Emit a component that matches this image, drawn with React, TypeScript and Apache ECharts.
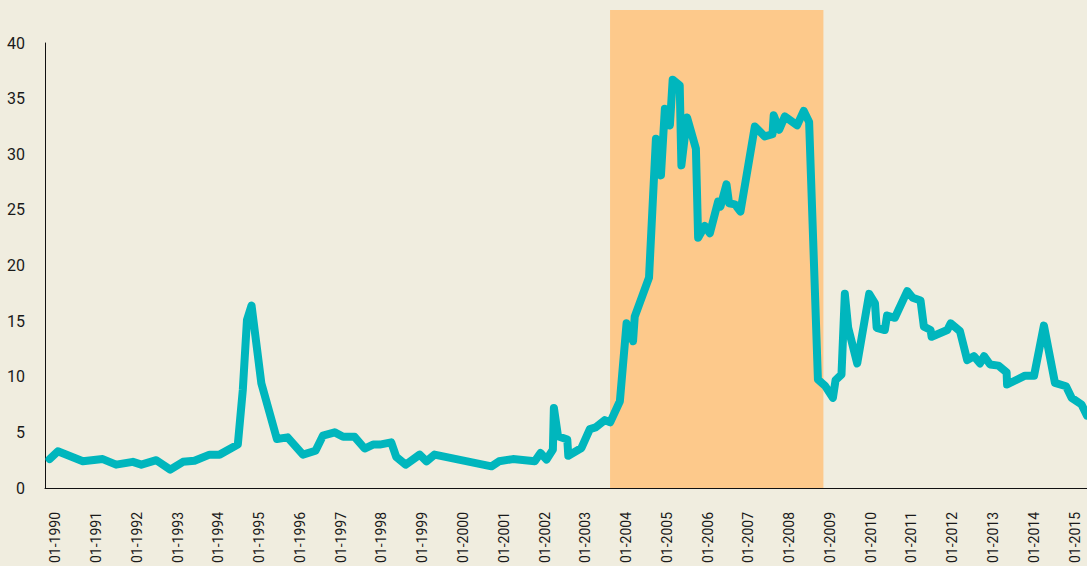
import React, { useEffect, useRef } from "react";
import * as echarts from "echarts";

const dates: string[] = [
  "1989-11-12", "1990-01-25", "1990-09-06", "1991-03-03", "1991-07-01", "1991-11-28",
  "1992-02-12", "1992-06-25", "1992-10-28", "1993-02-19", "1993-06-02", "1993-10-15",
  "1994-01-13", "1994-06-25", "1994-08-09", "1994-09-15", "1994-10-26", "1995-01-22",
  "1995-06-10", "1995-09-14", "1996-01-29", "1996-05-21", "1996-07-26", "1996-11-09",
  "1997-01-23", "1997-05-06", "1997-08-04", "1997-10-18", "1997-12-17", "1998-03-30",
  "1998-05-14", "1998-08-06", "1998-12-10", "1999-02-09", "1999-04-22", "2000-09-13",
  "2000-11-20", "2001-03-24", "2001-10-06", "2001-11-26", "2002-01-19", "2002-03-17",
  "2002-03-26", "2002-05-02", "2002-07-24", "2002-08-02", "2002-11-28", "2003-02-11",
  "2003-04-04", "2003-06-25", "2003-08-12", "2003-11-07", "2004-01-06", "2004-03-04",
  "2004-03-19", "2004-07-25", "2004-09-25", "2004-11-09", "2004-12-14", "2005-01-28",
  "2005-02-22", "2005-04-26", "2005-05-11", "2005-07-01", "2005-09-18", "2005-10-08",
  "2005-12-07", "2006-01-21", "2006-04-05", "2006-04-26", "2006-06-19", "2006-07-12",
  "2006-09-02", "2006-10-22", "2007-02-28", "2007-05-27", "2007-08-05", "2007-08-16",
  "2007-10-04", "2007-11-24", "2008-03-12", "2008-05-11", "2008-06-28", "2008-09-15",
  "2008-11-17", "2009-01-27", "2009-02-20", "2009-04-14", "2009-05-14", "2009-06-13",
  "2009-09-02", "2009-12-18", "2010-02-08", "2010-02-23", "2010-05-07", "2010-05-27",
  "2010-08-05", "2010-11-24", "2011-01-12", "2011-03-23", "2011-04-22", "2011-06-21",
  "2011-06-30", "2011-11-18", "2011-12-18", "2012-03-10", "2012-05-14", "2012-07-13",
  "2012-09-06", "2012-10-12", "2012-12-05", "2013-02-18", "2013-05-02", "2013-05-06",
  "2013-10-14", "2014-01-03", "2014-04-01", "2014-07-09", "2014-10-16", "2014-12-06",
  "2015-03-04", "2015-04-22",
];

const values: number[] = [
  2.6, 3.3, 2.4, 2.6, 2.1, 2.35,
  2.1, 2.5, 1.65, 2.35, 2.45, 3.0,
  3.0, 3.9, 8.85, 15.1, 16.4, 9.4,
  4.4, 4.55, 3.0, 3.35, 4.7, 5.0,
  4.6, 4.6, 3.55, 3.9, 3.9, 4.1,
  2.8, 2.1, 3.0, 2.4, 3.0, 1.95,
  2.4, 2.6, 2.4, 3.15, 2.55, 3.45,
  7.2, 4.65, 4.35, 2.9, 3.6, 5.3,
  5.45, 6.1, 5.9, 7.8, 14.8, 13.2,
  15.4, 18.9, 31.4, 28.1, 34.1, 32.6,
  36.7, 36.2, 29.0, 33.3, 30.5, 22.5,
  23.55, 22.9, 25.75, 25.3, 27.3, 25.6,
  25.5, 24.85, 32.5, 31.6, 31.8, 33.5,
  32.2, 33.4, 32.6, 33.9, 32.9, 9.75,
  9.2, 8.1, 9.7, 10.2, 17.45, 14.4,
  11.2, 17.45, 16.6, 14.4, 14.2, 15.5,
  15.3, 17.7, 17.1, 16.85, 14.5, 14.2,
  13.6, 14.2, 14.8, 14.1, 11.5, 11.85,
  11.2, 11.85, 11.1, 11.0, 10.4, 9.3,
  10.1, 10.1, 14.6, 9.45, 9.15, 8.1,
  7.5, 6.5,
];

// Shaded period
const bandStart = "2003-08-11";
const bandEnd = "2008-11-03";

// Axis ranges
const xMin = "1989-10-02";
const xMax = "2015-04-22";
const yMin = 0;
const yMax = 40;
const yStep = 5;

const YEAR_MS = 365 * 24 * 3600 * 1000;
const FONT = "Roboto, 'Liberation Sans', sans-serif";

export default function App() {
  const ref = useRef<HTMLDivElement>(null);

  useEffect(() => {
    document.body.style.margin = "0";
    document.body.style.background = "#f0eddf";
    if (!ref.current) return;
    const chart = echarts.init(ref.current, null, { renderer: "svg" });

    const lineData = dates.map((d, i) => [d, values[i]]);
    const bandData = [
      [bandStart, 1],
      [bandEnd, 1],
    ];

    chart.setOption({
      animation: false,
      backgroundColor: "#f0eddf",
      grid: [
        { left: 45, right: 0, top: 43, bottom: 78, outerBoundsMode: "none" },
        { left: 45, right: 0, top: 10, bottom: 78, outerBoundsMode: "none" },
      ],
      xAxis: [
        {
          type: "time",
          gridIndex: 0,
          min: xMin,
          max: xMax,
          minInterval: YEAR_MS,
          maxInterval: YEAR_MS + 24 * 3600 * 1000,
          axisLine: { show: true, lineStyle: { color: "#111", width: 1 } },
          axisTick: { show: false },
          splitLine: { show: false },
          axisLabel: {
            rotate: 90,
            margin: 24,
            fontSize: 14,
            fontFamily: FONT,
            color: "#1a1a1a",
            hideOverlap: false,
            formatter: (val: number) => {
              const d = new Date(val);
              if (d.getMonth() !== 0) return "";
              return "01-" + d.getFullYear();
            },
          },
        },
        {
          type: "time",
          gridIndex: 1,
          min: xMin,
          max: xMax,
          show: false,
        },
      ],
      yAxis: [
        {
          type: "value",
          gridIndex: 0,
          min: yMin,
          max: yMax,
          interval: yStep,
          axisLine: { show: true, lineStyle: { color: "#111", width: 1 } },
          axisTick: { show: false },
          splitLine: { show: false },
          axisLabel: {
            margin: 20,
            fontSize: 16,
            fontFamily: FONT,
            color: "#1a1a1a",
          },
        },
        {
          type: "value",
          gridIndex: 1,
          min: 0,
          max: 1,
          show: false,
        },
      ],
      series: [
        {
          type: "line",
          xAxisIndex: 1,
          yAxisIndex: 1,
          data: bandData,
          showSymbol: false,
          silent: true,
          z: 1,
          lineStyle: { width: 0 },
          areaStyle: { color: "#fdc98b", opacity: 1 },
        },
        {
          type: "line",
          xAxisIndex: 0,
          yAxisIndex: 0,
          data: lineData,
          showSymbol: false,
          z: 5,
          clip: false,
          lineStyle: { color: "#00b6bd", width: 8, cap: "round", join: "round" },
        },
      ],
    });

    return () => chart.dispose();
  }, []);

  return <div ref={ref} style={{ width: 1087, height: 566 }} />;
}
